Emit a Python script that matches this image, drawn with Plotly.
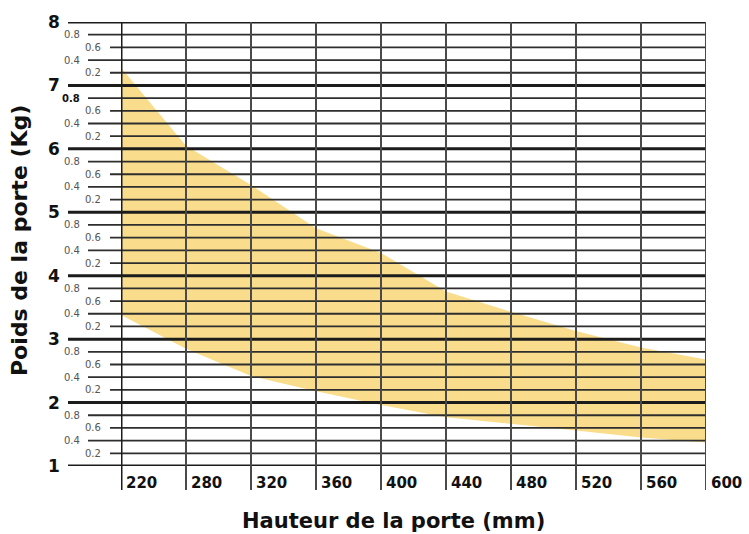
import plotly.graph_objects as go

# ---- data ----
heights_mm = ["220", "280", "320", "360", "400", "440", "480", "520", "560", "600"]
weight_max = [7.28, 6.05, 5.43, 4.75, 4.36, 3.75, 3.43, 3.13, 2.87, 2.68]
weight_min = [3.38, 2.85, 2.42, 2.18, 1.96, 1.77, 1.66, 1.56, 1.45, 1.37]
major_ticks = [1, 2, 3, 4, 5, 6, 7, 8]
minor_ticks = ["0.2", "0.4", "0.6", "0.8"]

W, H = 749, 534
L, R, T, B = 121, 43, 22, 68
PW, PH = W - L - R, H - T - B

def px_x(p):  # pixel -> paper x
    return (p - L) / PW

def px_y(p):  # pixel -> paper y
    return (H - B - p) / PH

pos = list(range(len(heights_mm)))

fig = go.Figure()
fig.add_trace(go.Scatter(
    x=pos + pos[::-1],
    y=weight_max + weight_min[::-1],
    fill="toself", mode="lines",
    line=dict(width=0, color="rgba(0,0,0,0)"),
    fillcolor="rgb(249,221,140)",
    hoverinfo="skip", showlegend=False,
))

shapes = []
annotations = []
FONT = "DejaVu Sans"

# horizontal grid: majors and minors
for m in major_ticks:
    shapes.append(dict(type="line", xref="paper", yref="y", x0=px_x(68), x1=1,
                       y0=m, y1=m, line=dict(color="#1c1c1c", width=3), layer="above"))
    annotations.append(dict(xref="paper", yref="y", x=px_x(62), y=m, text=str(m),
                            showarrow=False, xanchor="right", yanchor="middle",
                            font=dict(family=FONT, size=17, color="#111", weight="bold")))
    if m == major_ticks[-1]:
        continue
    for lab in minor_ticks:
        v = m + float(lab)
        staggered_left = lab in ("0.4", "0.8")
        start = 88 if staggered_left else 110
        lab_right = 82 if staggered_left else 103
        shapes.append(dict(type="line", xref="paper", yref="y", x0=px_x(start), x1=1,
                           y0=v, y1=v, line=dict(color="#2e2e2e", width=1.8), layer="above"))
        bold = (m == 6 and lab == "0.8")
        annotations.append(dict(xref="paper", yref="y", x=px_x(lab_right), y=v, text=lab,
                                showarrow=False, xanchor="right", yanchor="middle",
                                font=dict(family=FONT, size=10,
                                          color="#111" if bold else "#555",
                                          weight="bold" if bold else "normal")))

# vertical grid + x labels
for i, lab in zip(pos, heights_mm):
    first = i == 0
    shapes.append(dict(type="line", xref="x", yref="paper", x0=i, x1=i,
                       y0=px_y(490), y1=1,
                       line=dict(color="#1c1c1c" if first else "#4a4a4a", width=3 if first else 2),
                       layer="above"))
    annotations.append(dict(xref="x", yref="paper", x=i, y=px_y(483), text=lab,
                            showarrow=False, xanchor="left", yanchor="middle", xshift=3,
                            font=dict(family=FONT, size=15, color="#111", weight="bold")))

annotations.append(dict(xref="paper", yref="paper", x=px_x(393.5), y=px_y(521),
                        text="Hauteur de la porte (mm)", showarrow=False,
                        xanchor="center", yanchor="middle",
                        font=dict(family=FONT, size=21, color="#111", weight="bold")))
annotations.append(dict(xref="paper", yref="paper", x=px_x(20), y=px_y(241),
                        text="Poids de la porte (Kg)", showarrow=False, textangle=-90,
                        xanchor="center", yanchor="middle",
                        font=dict(family=FONT, size=22, color="#111", weight="bold")))

fig.update_layout(
    width=W, height=H,
    margin=dict(l=L, r=R, t=T, b=B),
    paper_bgcolor="white", plot_bgcolor="white",
    shapes=shapes, annotations=annotations,
    xaxis=dict(range=[0, 9], showgrid=False, zeroline=False, showticklabels=False,
               ticks="", showline=False, fixedrange=True),
    yaxis=dict(range=[1, 8], showgrid=False, zeroline=False, showticklabels=False,
               ticks="", showline=False, fixedrange=True),
    showlegend=False,
)

fig.write_html("out.html", config={"displayModeBar": False},
               post_script="document.body.style.margin='0px';document.body.style.overflow='hidden';")
